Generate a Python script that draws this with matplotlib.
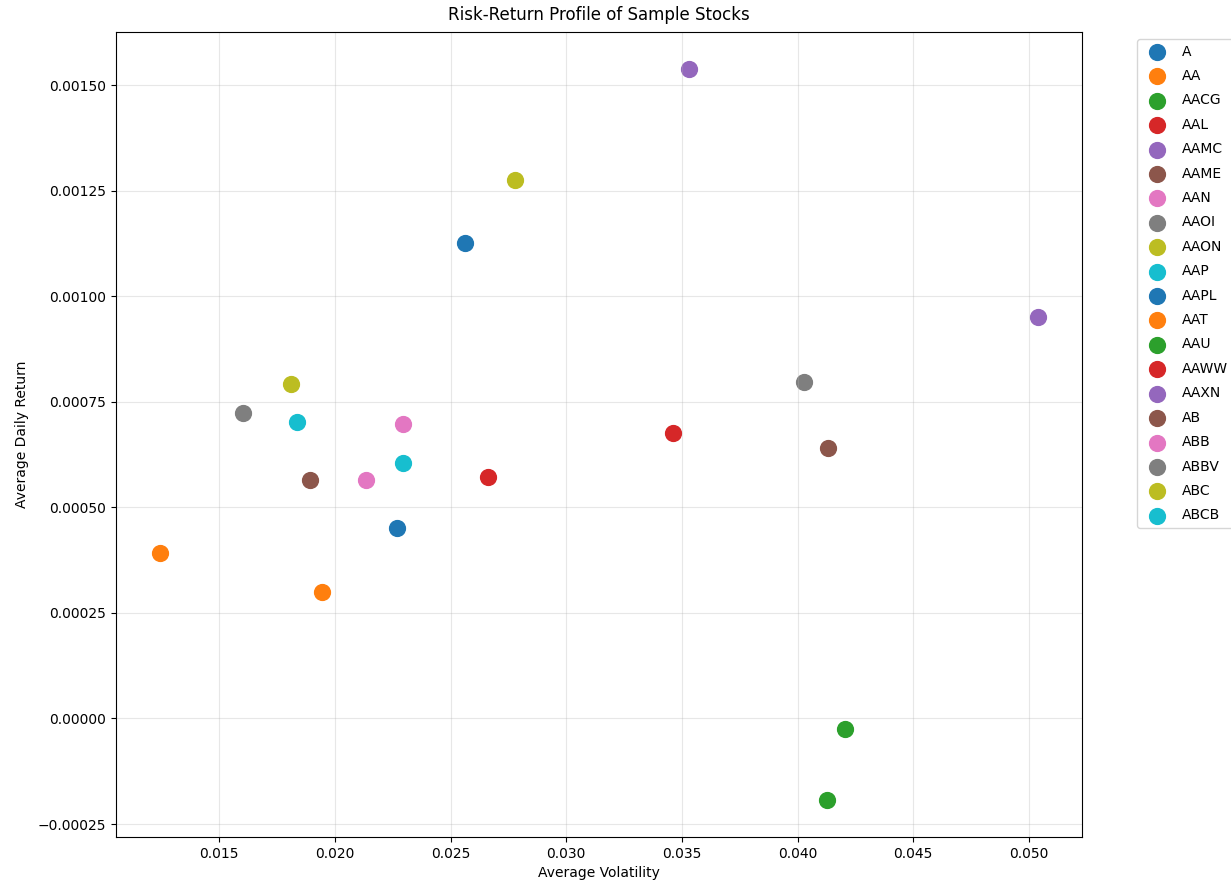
"""
Risk-return scatter of a small sample of tickers: average volatility vs
average daily return, one colour per ticker.
"""

import matplotlib
matplotlib.use("Agg")
import matplotlib.pyplot as plt

# per-ticker summary stats
tickers = ["A", "AA", "AACG", "AAL", "AAMC", "AAME", "AAN", "AAOI", "AAON", "AAP",
           "AAPL", "AAT", "AAU", "AAWW", "AAXN", "AB", "ABB", "ABBV", "ABC", "ABCB"]

avg_volatility = [0.02562, 0.01243, 0.04207, 0.02662, 0.03532, 0.01892, 0.02292, 0.01601, 0.02780, 0.01837,
                  0.02269, 0.01944, 0.04126, 0.03463, 0.05040, 0.04133, 0.02134, 0.04029, 0.01809, 0.02293]

avg_return = [0.001125, 0.000391, -0.000026, 0.000571, 0.001539, 0.000565, 0.000697, 0.000724, 0.001276, 0.000701,
              0.000452, 0.000300, -0.000194, 0.000677, 0.000950, 0.000641, 0.000565, 0.000796, 0.000792, 0.000606]


def main():
    fig = plt.figure(figsize=(12.31, 8.86), dpi=100)
    ax = fig.add_axes([116 / 1231, 49 / 886, 966 / 1231, 805 / 886])

    for name, vol, ret in zip(tickers, avg_volatility, avg_return):
        ax.scatter(vol, ret, s=130, label=name)

    ax.set_title("Risk-Return Profile of Sample Stocks", pad=9)
    ax.set_xlabel("Average Volatility")
    ax.set_ylabel("Average Daily Return", labelpad=6)
    ax.grid(True, alpha=0.3)
    ax.legend(bbox_to_anchor=(1.05, 1), loc="upper left", labelspacing=0.75)

    fig.savefig("out.png", dpi=100)
    plt.close()


if __name__ == "__main__":
    main()
